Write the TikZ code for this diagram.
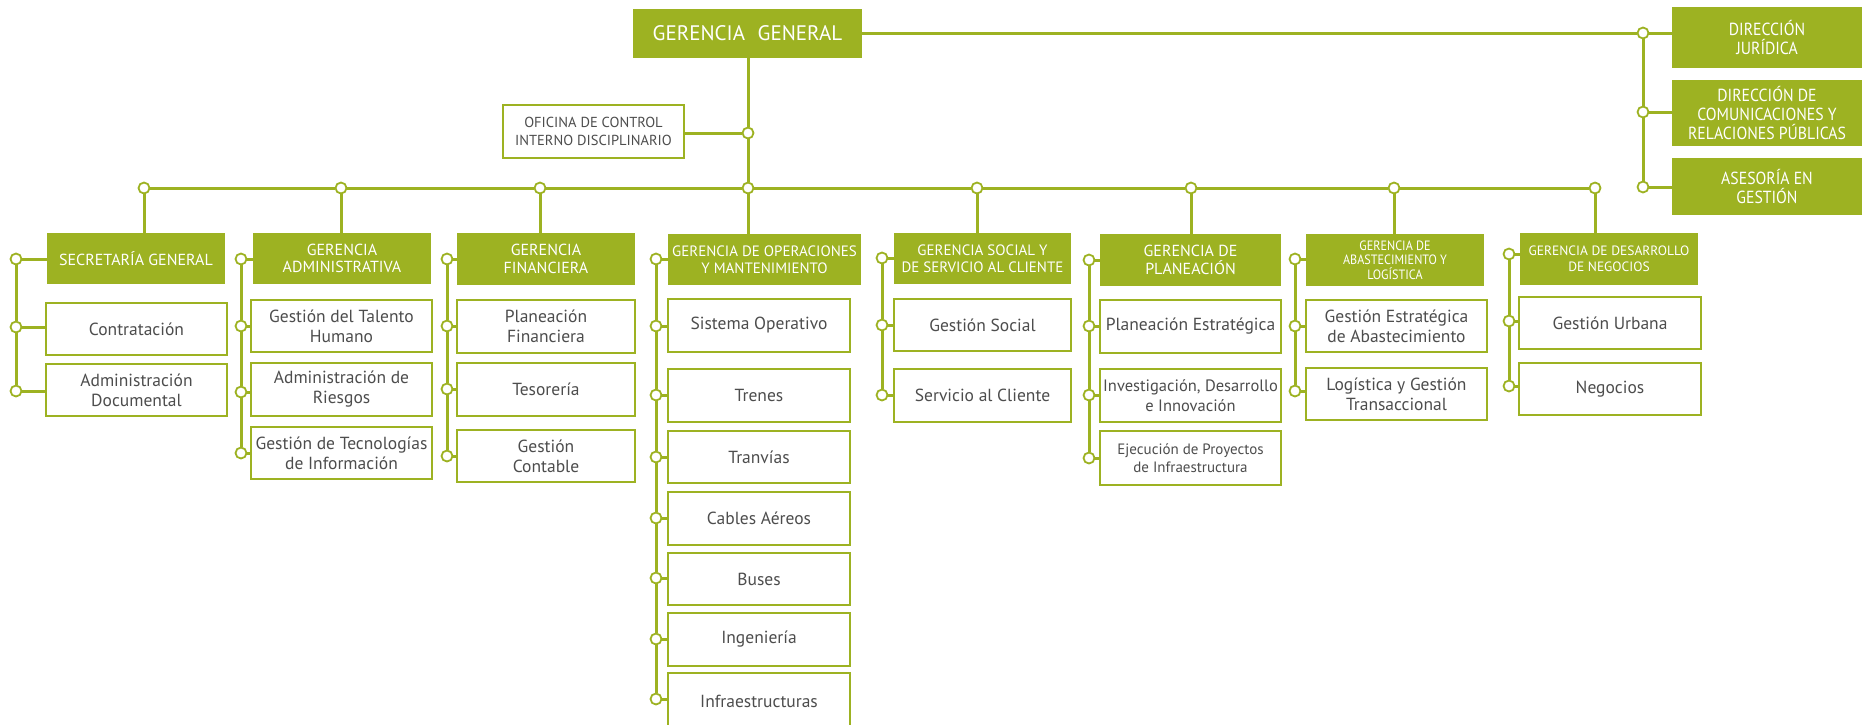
\documentclass[tikz,border=0pt]{standalone}
\usepackage{fontspec}
\setmainfont{PT Sans}
\newfontfamily\condfont[FakeStretch=0.9]{PT Sans}
\usetikzlibrary{backgrounds}
\definecolor{gr}{HTML}{9DB222}
\definecolor{tx}{HTML}{4D4D4D}
\tikzset{
 hdr/.style={fill=gr, draw=none, text=white, align=center, inner sep=0pt, font=\fontsize{16}{17.5}\selectfont},
 hdrm/.style={hdr, font=\fontsize{15}{17.5}\selectfont},
 hdrs/.style={hdr, font=\condfont\fontsize{13.5}{14.5}\selectfont},
 hdrn/.style={hdr, font=\fontsize{13.5}{16.5}\selectfont},
 rbox/.style={hdr, font=\condfont\fontsize{17.5}{19}\selectfont},
 topbox/.style={hdr, font=\fontsize{21}{22}\selectfont},
 subbox/.style={fill=white, draw=gr, line width=2.8pt, text=tx, align=center, inner sep=0pt, font=\fontsize{17.5}{20}\selectfont},
 subnar/.style={subbox, font=\fontsize{16.5}{20}\selectfont},
 subsm/.style={subbox, font=\fontsize{15}{18}\selectfont},
 ofibox/.style={subbox, font=\fontsize{14.5}{18}\selectfont},
 ln/.style={draw=gr, line width=3pt},
 dot/.style={circle, draw=gr, fill=white, line width=1.8pt, minimum size=11pt, inner sep=0pt},
}
\newcommand{\bx}[7]{\node[#6, minimum width={#4-#2}, minimum height={#5-#3}] (#1) at ({(#2+#4)/2},{(#3+#5)/2}) {#7};}
\newcommand{\dt}[3]{\node[dot] (#1) at (#2,#3) {};}
\begin{document}
\begin{tikzpicture}[x=1pt,y=-1pt]
\useasboundingbox (0,0) rectangle (1862,724);
\clip (0,0) rectangle (1862,724);
% top
\bx{gg}{633}{9}{862}{58}{topbox}{GERENCIA\hspace{0.6em}GENERAL}
\bx{ofi}{503}{105}{684}{158}{ofibox}{OFICINA DE CONTROL\\INTERNO DISCIPLINARIO}
\bx{dj}{1672}{7}{1862}{68}{rbox}{DIRECCIÓN\\JURÍDICA}
\bx{dc}{1672}{80}{1862}{146}{rbox}{DIRECCIÓN DE\\COMUNICACIONES Y\\RELACIONES PÚBLICAS}
\bx{ag}{1672}{158}{1862}{215}{rbox}{ASESORÍA EN\\GESTIÓN}
\dt{r1}{1643}{33}\dt{r2}{1643}{112}\dt{r3}{1643}{187}
\dt{o1}{748}{133}
\dt{b1}{144}{188}\dt{b2}{341}{188}\dt{b3}{540}{188}\dt{b4}{748}{188}
\dt{b5}{977}{188}\dt{b6}{1191}{188}\dt{b7}{1394}{188}\dt{b8}{1595}{188}
% dept 1
\bx{h1}{47}{233}{225}{284}{hdr}{SECRETARÍA GENERAL}
\bx{s11}{46}{303}{227}{355}{subbox}{Contratación}
\bx{s12}{46}{364}{227}{416}{subbox}{Administración\\Documental}
\dt{d10}{16}{259}\dt{d11}{16}{327}\dt{d12}{16}{391}
% dept 2
\bx{h2}{253}{233}{431}{284}{hdr}{GERENCIA\\ADMINISTRATIVA}
\bx{s21}{251}{300}{432}{352}{subbox}{Gestión del Talento\\Humano}
\bx{s22}{251}{363}{432}{416}{subbox}{Administración de\\Riesgos}
\bx{s23}{251}{427}{432}{479}{subbox}{Gestión de Tecnologías\\de Información}
\dt{d20}{241}{259}\dt{d21}{241}{326}\dt{d22}{241}{392}\dt{d23}{241}{453}
% dept 3
\bx{h3}{457}{233}{635}{285}{hdr}{GERENCIA\\FINANCIERA}
\bx{s31}{457}{300}{635}{353}{subbox}{Planeación\\Financiera}
\bx{s32}{457}{363}{635}{416}{subbox}{Tesorería}
\bx{s33}{457}{430}{635}{482}{subbox}{Gestión\\Contable}
\dt{d30}{447}{259}\dt{d31}{447}{326}\dt{d32}{447}{389}\dt{d33}{447}{456}
% dept 4
\bx{h4}{668}{234}{861}{285}{hdrm}{GERENCIA DE OPERACIONES\\Y MANTENIMIENTO}
\bx{s41}{668}{299}{850}{352}{subbox}{Sistema Operativo}
\bx{s42}{668}{369}{850}{422}{subbox}{Trenes}
\bx{s43}{668}{431}{850}{483}{subbox}{Tranvías}
\bx{s44}{668}{492}{850}{545}{subbox}{Cables Aéreos}
\bx{s45}{668}{553}{850}{605}{subbox}{Buses}
\bx{s46}{668}{613}{850}{666}{subbox}{Ingeniería}
\bx{s47}{668}{673}{850}{730}{subbox}{Infraestructuras}
\dt{d40}{656}{259}\dt{d41}{656}{326}\dt{d42}{656}{395}\dt{d43}{656}{457}
\dt{d44}{656}{518}\dt{d45}{656}{578}\dt{d46}{656}{639}\dt{d47}{656}{699}
% dept 5
\bx{h5}{894}{233}{1071}{284}{hdrm}{GERENCIA SOCIAL Y\\DE SERVICIO AL CLIENTE}
\bx{s51}{894}{299}{1071}{351}{subbox}{Gestión Social}
\bx{s52}{894}{369}{1071}{422}{subbox}{Servicio al Cliente}
\dt{d50}{882}{258}\dt{d51}{882}{325}\dt{d52}{882}{395}
% dept 6
\bx{h6}{1100}{234}{1281}{286}{hdr}{GERENCIA DE\\PLANEACIÓN}
\bx{s61}{1100}{300}{1281}{353}{subbox}{Planeación Estratégica}
\bx{s62}{1100}{369}{1281}{422}{subnar}{Investigación, Desarrollo\\e Innovación}
\bx{s63}{1100}{431}{1281}{485}{subsm}{Ejecución de Proyectos\\de Infraestructura}
\dt{d60}{1089}{260}\dt{d61}{1089}{326}\dt{d62}{1089}{395}\dt{d63}{1089}{458}
% dept 7
\bx{h7}{1306}{234}{1484}{286}{hdrs}{GERENCIA DE\\ABASTECIMIENTO Y\\LOGÍSTICA}
\bx{s71}{1306}{300}{1487}{352}{subbox}{Gestión Estratégica\\de Abastecimiento}
\bx{s72}{1306}{368}{1487}{420}{subbox}{Logística y Gestión\\Transaccional}
\dt{d70}{1295}{259}\dt{d71}{1295}{326}\dt{d72}{1295}{391}
% dept 8
\bx{h8}{1520}{233}{1698}{285}{hdrn}{GERENCIA DE DESARROLLO\\DE NEGOCIOS}
\bx{s81}{1519}{297}{1701}{349}{subbox}{Gestión Urbana}
\bx{s82}{1519}{363}{1701}{415}{subbox}{Negocios}
\dt{d80}{1509}{254}\dt{d81}{1509}{321}\dt{d82}{1509}{386}
\begin{pgfonlayer}{background}
\draw[ln] (o1 |- gg.south) -- (o1) -- (b4);
\draw[ln] (ofi.east |- o1) -- (o1);
\draw[ln] (gg.east |- r1) -- (r1) -- (r2) -- (r3);
\draw[ln] (r1) -- (dj.west |- r1);
\draw[ln] (r2) -- (dc.west |- r2);
\draw[ln] (r3) -- (ag.west |- r3);
\draw[ln] (b1) -- (b2) -- (b3) -- (b4) -- (b5) -- (b6) -- (b7) -- (b8);
\foreach \i in {1,...,8} {\draw[ln] (b\i) -- (b\i |- h\i.north);}
\draw[ln] (d10) -- (d11) -- (d12);
\draw[ln] (d20) -- (d21) -- (d22) -- (d23);
\draw[ln] (d30) -- (d31) -- (d32) -- (d33);
\draw[ln] (d40) -- (d41) -- (d42) -- (d43) -- (d44) -- (d45) -- (d46) -- (d47);
\draw[ln] (d50) -- (d51) -- (d52);
\draw[ln] (d60) -- (d61) -- (d62) -- (d63);
\draw[ln] (d70) -- (d71) -- (d72);
\draw[ln] (d80) -- (d81) -- (d82);
\foreach \d/\n in {1/2,2/3,3/3,4/7,5/2,6/3,7/2,8/2} {
  \draw[ln] (d\d0) -- (d\d0 -| h\d.west);
  \foreach \k in {1,...,\n} {\draw[ln] (d\d\k) -- (d\d\k -| s\d\k.west);}
}
\end{pgfonlayer}
\end{tikzpicture}
\end{document}
